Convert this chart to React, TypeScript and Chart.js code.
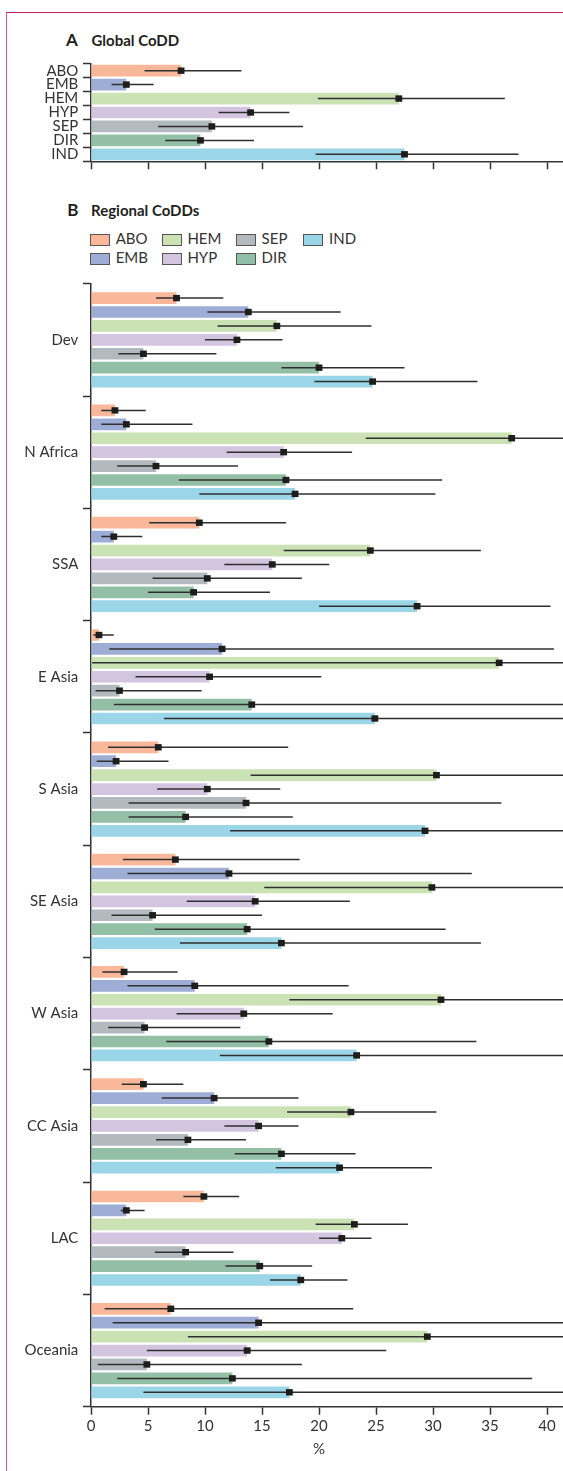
import React, { useEffect, useRef } from 'react';
import { Chart, registerables } from 'chart.js';

Chart.register(...registerables);

// ---------- data ----------
const causes = ['ABO', 'EMB', 'HEM', 'HYP', 'SEP', 'DIR', 'IND'];
const causeColors = ['#f9b89a', '#9eadd6', '#cbe2b5', '#d3c4e0', '#b2babf', '#93bfa6', '#9bd6e8'];

const globalValue = [7.9, 3.1, 27.0, 14.0, 10.6, 9.6, 27.5];
const globalLow = [4.7, 1.8, 19.9, 11.2, 5.9, 6.5, 19.7];
const globalHigh = [13.2, 5.5, 36.3, 17.4, 18.6, 14.3, 37.5];

const regions = ['Dev', 'N Africa', 'SSA', 'E Asia', 'S Asia', 'SE Asia', 'W Asia', 'CC Asia', 'LAC', 'Oceania'];

const aboValue = [7.5, 2.1, 9.5, 0.7, 5.9, 7.4, 2.9, 4.6, 9.9, 7.0];
const aboLow = [5.7, 0.9, 5.1, 0.2, 1.5, 2.8, 1.0, 2.7, 8.1, 1.2];
const aboHigh = [11.6, 4.8, 17.1, 2.0, 17.3, 18.3, 7.6, 8.1, 13.0, 23.0];

const embValue = [13.8, 3.1, 2.0, 11.5, 2.2, 12.1, 9.1, 10.8, 3.1, 14.7];
const embLow = [10.2, 0.9, 0.9, 1.6, 0.5, 3.2, 3.2, 6.2, 2.6, 1.9];
const embHigh = [21.9, 8.9, 4.5, 40.6, 6.8, 33.4, 22.6, 18.2, 4.7, 48.0];

const hemValue = [16.3, 36.9, 24.5, 35.8, 30.3, 29.9, 30.7, 22.8, 23.1, 29.5];
const hemLow = [11.1, 24.1, 16.9, 0.1, 14.0, 15.2, 17.4, 17.2, 19.7, 8.5];
const hemHigh = [24.6, 47.0, 34.2, 60.0, 48.0, 46.0, 45.0, 30.3, 27.8, 52.0];

const hypValue = [12.8, 16.9, 15.9, 10.4, 10.2, 14.4, 13.4, 14.7, 22.0, 13.7];
const hypLow = [10.0, 11.9, 11.7, 3.9, 5.8, 8.4, 7.5, 11.7, 20.0, 4.9];
const hypHigh = [16.8, 22.9, 20.9, 20.2, 16.6, 22.7, 21.2, 18.2, 24.6, 25.9];

const sepValue = [4.6, 5.7, 10.2, 2.5, 13.6, 5.4, 4.7, 8.5, 8.3, 4.9];
const sepLow = [2.4, 2.3, 5.4, 0.4, 3.3, 1.8, 1.5, 5.7, 5.6, 0.6];
const sepHigh = [11.0, 12.9, 18.5, 9.7, 36.0, 15.0, 13.1, 13.6, 12.5, 18.5];

const dirValue = [20.0, 17.1, 9.0, 14.1, 8.3, 13.7, 15.6, 16.7, 14.8, 12.4];
const dirLow = [16.7, 7.7, 5.0, 2.0, 3.3, 5.6, 6.6, 12.6, 11.8, 2.3];
const dirHigh = [27.5, 30.8, 15.7, 50.0, 17.7, 31.1, 33.8, 23.2, 19.4, 38.7];

const indValue = [24.7, 17.9, 28.6, 24.9, 29.3, 16.7, 23.3, 21.8, 18.4, 17.4];
const indLow = [19.6, 9.5, 20.0, 6.4, 12.2, 7.8, 11.3, 16.2, 15.7, 4.6];
const indHigh = [33.9, 30.2, 40.3, 52.0, 50.0, 34.2, 44.0, 29.9, 22.5, 46.0];

const xTicks = [0, 5, 10, 15, 20, 25, 30, 35, 40];
const axisTitle = '%';

const regionalValues = [aboValue, embValue, hemValue, hypValue, sepValue, dirValue, indValue];
const regionalLows = [aboLow, embLow, hemLow, hypLow, sepLow, dirLow, indLow];
const regionalHighs = [aboHigh, embHigh, hemHigh, hypHigh, sepHigh, dirHigh, indHigh];

// ---------- styling ----------
const FONT = 'Lato, "Open Sans", sans-serif';
const INK = '#333333';
const X_MAX = 41.4;

function errorBarPlugin(lows: number[][], highs: number[][], title?: string) {
  return {
    id: 'errorBars',
    afterDatasetsDraw(chart: any) {
      const { ctx, chartArea } = chart;
      const xs = chart.scales.x;
      ctx.save();
      ctx.beginPath();
      ctx.rect(chartArea.left, chartArea.top - 10, chartArea.right - chartArea.left + 10, chartArea.bottom - chartArea.top + 20);
      ctx.clip();
      chart.data.datasets.forEach((ds: any, i: number) => {
        const meta = chart.getDatasetMeta(i);
        meta.data.forEach((el: any, j: number) => {
          const y = el.y;
          const x0 = xs.getPixelForValue(lows[i][j]);
          const x1 = xs.getPixelForValue(highs[i][j]);
          ctx.strokeStyle = '#2f2f2f';
          ctx.lineWidth = 1.5;
          ctx.beginPath();
          ctx.moveTo(x0, y);
          ctx.lineTo(x1, y);
          ctx.stroke();
          const xm = xs.getPixelForValue(ds.data[j]);
          ctx.fillStyle = '#1d1d1b';
          ctx.fillRect(xm - 3.4, y - 3.2, 6.8, 6.4);
        });
      });
      ctx.restore();
    },
    afterDraw(chart: any) {
      if (!title) return;
      const { ctx, chartArea } = chart;
      const xs = chart.scales.x;
      ctx.save();
      ctx.font = `15px ${FONT}`;
      ctx.fillStyle = INK;
      ctx.textAlign = 'center';
      ctx.textBaseline = 'middle';
      ctx.fillText(title, xs.getPixelForValue(xTicks[Math.floor(xTicks.length / 2)]), chartArea.bottom + 42.5);
      ctx.restore();
    },
  };
}

function axisOptions(padTop: number, xHeight: number, showXLabels: boolean) {
  return {
    indexAxis: 'y' as const,
    responsive: false,
    animation: false as const,
    layout: { padding: { top: padTop, right: 0, bottom: 0, left: 0 } },
    plugins: { legend: { display: false }, tooltip: { enabled: false } },
    scales: {
      x: {
        type: 'linear' as const,
        min: 0,
        max: X_MAX,
        afterBuildTicks: (s: any) => {
          s.ticks = xTicks.map((v) => ({ value: v }));
        },
        ticks: {
          display: showXLabels,
          autoSkip: false,
          font: { size: 15, family: FONT },
          color: INK,
          padding: 2,
          maxRotation: 0,
        },
        grid: { drawOnChartArea: false, tickLength: 8, color: INK, tickWidth: 1.5 },
        border: { display: true, color: INK, width: 1.5 },
        afterFit: (s: any) => {
          s.height = xHeight;
        },
      },
      y: {
        type: 'category' as const,
        offset: true,
        ticks: { autoSkip: false, font: { size: 15, family: FONT }, color: INK, padding: 4.7 },
        grid: { offset: true, drawOnChartArea: false, tickLength: 8, color: INK, tickWidth: 1.5 },
        border: { display: true, color: INK, width: 1.5 },
        afterFit: (s: any) => {
          s.width = 91;
        },
      },
    },
  };
}

export default function App() {
  const refA = useRef<HTMLCanvasElement>(null);
  const refB = useRef<HTMLCanvasElement>(null);

  useEffect(() => {
    Chart.defaults.font.family = FONT;
    const chartA = new Chart(refA.current!, {
      type: 'bar',
      data: {
        labels: causes,
        datasets: [
          {
            data: globalValue,
            backgroundColor: causeColors,
            borderWidth: 0,
            categoryPercentage: 1,
            barPercentage: 0.835,
          },
        ],
      },
      options: axisOptions(11.7, 12.7, false) as any,
      plugins: [errorBarPlugin([globalLow], [globalHigh])],
    });

    const chartB = new Chart(refB.current!, {
      type: 'bar',
      data: {
        labels: regions,
        datasets: causes.map((c, i) => ({
          label: c,
          data: regionalValues[i],
          backgroundColor: causeColors[i],
          borderWidth: 0,
          categoryPercentage: 0.8675,
          barPercentage: 0.84,
        })),
      },
      options: axisOptions(11, 64.3, true) as any,
      plugins: [errorBarPlugin(regionalLows, regionalHighs, axisTitle)],
    });

    return () => {
      chartA.destroy();
      chartB.destroy();
    };
  }, []);

  const legendCols = [90, 161.7, 235.9, 303.4];
  const legendRows = [234, 253.3];

  const textBase: React.CSSProperties = {
    position: 'absolute',
    fontFamily: FONT,
    color: '#231f20',
    whiteSpace: 'nowrap',
  };

  return (
    <div style={{ position: 'relative', width: 563, height: 1471, overflow: 'hidden', background: '#fff' }}>
      <style>{'body{margin:0}'}</style>
      <div
        style={{
          position: 'absolute',
          left: 6,
          top: 11.5,
          width: 557,
          height: 1460,
          borderTop: '1.5px solid #c41e5a',
          borderLeft: '1.2px solid #d9558a',
          boxSizing: 'border-box',
        }}
      />
      <div style={{ ...textBase, left: 66, top: 30.9, fontSize: 17, lineHeight: '17px', fontWeight: 700 }}>A</div>
      <div style={{ ...textBase, left: 91.5, top: 32.6, fontSize: 15, lineHeight: '15px', fontWeight: 700 }}>Global CoDD</div>
      <div style={{ ...textBase, left: 67.3, top: 201.2, fontSize: 17, lineHeight: '17px', fontWeight: 700 }}>B</div>
      <div style={{ ...textBase, left: 91, top: 203, fontSize: 15, lineHeight: '15px', fontWeight: 700 }}>Regional CoDDs</div>

      {causes.map((c, i) => {
        const col = Math.floor(i / 2);
        const row = i % 2;
        return (
          <React.Fragment key={c}>
            <div
              style={{
                position: 'absolute',
                left: legendCols[col],
                top: legendRows[row],
                width: 20,
                height: 11.5,
                boxSizing: 'border-box',
                border: '1.5px solid #555',
                background: causeColors[i],
              }}
            />
            <div
              style={{
                ...textBase,
                color: INK,
                left: legendCols[col] + 25.7,
                top: legendRows[row] - 3,
                fontSize: 15,
                lineHeight: '15px',
              }}
            >
              {c}
            </div>
          </React.Fragment>
        );
      })}

      <canvas
        ref={refA}
        width={563}
        height={125}
        style={{ position: 'absolute', left: 0, top: 50, width: 563, height: 125 }}
      />
      <canvas
        ref={refB}
        width={563}
        height={1201}
        style={{ position: 'absolute', left: 0, top: 270, width: 563, height: 1201 }}
      />
    </div>
  );
}
